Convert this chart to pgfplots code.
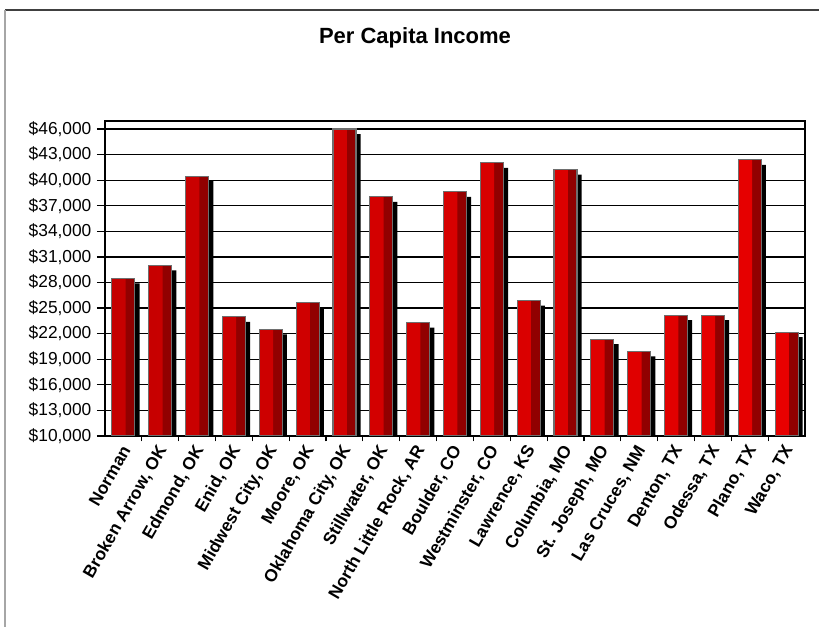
\documentclass[border=0pt]{standalone}
\usepackage{pgfplots}
\pgfplotsset{compat=1.18}
\usepackage{pgfplotstable}
\usepackage{fontspec}
\setmainfont{Liberation Sans}

\definecolor{barbright}{RGB}{232,0,0}
\definecolor{bardark}{RGB}{145,0,0}
\definecolor{baredge}{RGB}{110,110,110}

\pgfplotstableread{
x v
1 28480
2 30000
3 40470
4 23980
5 22500
6 25660
7 46000
8 38050
9 23280
10 38630
11 42030
12 25860
13 41250
14 21370
15 19920
16 24180
17 24180
18 42380
19 22190
}\incomedata

\begin{document}
\begin{tikzpicture}
\useasboundingbox (0,0) rectangle (614.25pt,470.25pt);
% chart area frame (only top and left edges are visible)
\draw[black!75, line width=0.8pt] (3.75pt,462.75pt) -- (616pt,462.75pt);
\draw[black!35, line width=0.8pt] (3.75pt,0pt) -- (3.75pt,462.75pt);

\node[font=\bfseries\fontsize{16.5}{18}\selectfont] at (311.25pt,442pt) {Per Capita Income};

\begin{axis}[
  at={(78.75pt,143.25pt)}, anchor=south west,
  scale only axis, width=525pt, height=236.25pt,
  xmin=0.5, xmax=19.5,
  ymin=10000, ymax=46940,
  ytick={10000,13000,...,46000},
  scaled y ticks=false,
  yticklabel={\$\pgfmathprintnumber{\tick}},
  /pgf/number format/.cd, fixed, 1000 sep={,}, assume math mode=true,
  /pgfplots/.cd,
  yticklabel style={font=\fontsize{13}{15}\selectfont, inner sep=2pt, xshift=-2pt},
  ymajorgrids, grid style={black, line width=0.9pt},
  axis line style={black, line width=1.1pt},
  tick align=outside,
  xtick pos=bottom, ytick pos=left,
  major tick length=6pt,
  minor tick length=4pt,
  ytick style={black, line width=0.9pt},
  xtick={1,...,19},
  minor x tick num=1,
  major x tick style={draw=none},
  minor x tick style={black, line width=0.9pt},
  xticklabels={Norman, {Broken Arrow, OK}, {Edmond, OK}, {Enid, OK}, {Midwest City, OK}, {Moore, OK}, {Oklahoma City, OK}, {Stillwater, OK}, {North Little Rock, AR}, {Boulder, CO}, {Westminster, CO}, {Lawrence, KS}, {Columbia, MO}, {St. Joseph, MO}, {Las Cruces, NM}, {Denton, TX}, {Odessa, TX}, {Plano, TX}, {Waco, TX}},
  xticklabel style={rotate=60, anchor=east, font=\bfseries\fontsize{13}{15}\selectfont, inner sep=1pt, yshift=-3pt},
]
% shadow
\addplot[ybar, bar width=17.25pt, bar shift=3.5pt, fill=black, draw=none, yshift=-3.75pt] table[x=x, y=v] {\incomedata};
% dark right side of the bar
\addplot[ybar, bar width=17.25pt, bar shift=0pt, fill=bardark, draw=none] table[x=x, y=v] {\incomedata};
% bright left side
\addplot[ybar, bar width=10.35pt, bar shift=-3.45pt, left color=barbright!85!black, right color=barbright, draw=none] table[x=x, y=v] {\incomedata};
% outline
\addplot[ybar, bar width=17.25pt, bar shift=0pt, fill=none, draw=baredge, line width=0.8pt] table[x=x, y=v] {\incomedata};
\end{axis}
\end{tikzpicture}
\end{document}
